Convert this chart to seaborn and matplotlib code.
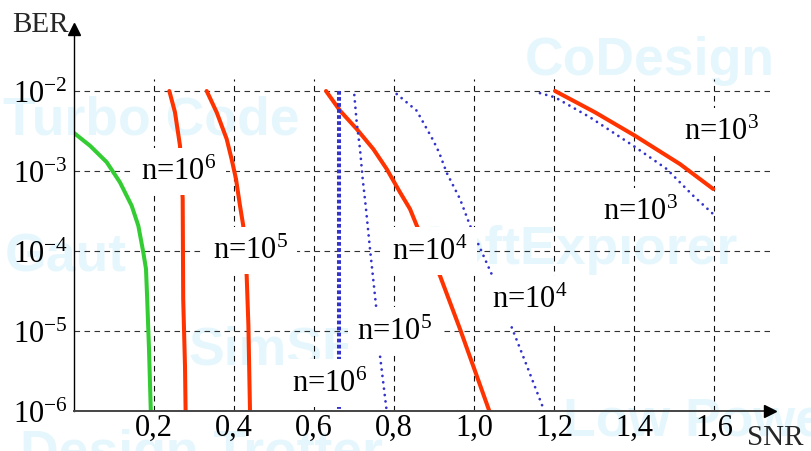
import matplotlib
matplotlib.use("Agg")
import matplotlib.pyplot as plt
import seaborn as sns

sns.set_theme(style="white")
plt.rcParams["font.family"] = ["Liberation Serif", "DejaVu Serif"]
plt.rcParams["mathtext.fontset"] = "custom"
plt.rcParams["mathtext.rm"] = "Liberation Serif"
plt.rcParams["mathtext.it"] = "Liberation Serif:italic"
plt.rcParams["mathtext.bf"] = "Liberation Serif:bold"

# ---------------- data (SNR, BER) ----------------
green_x = [0.0, 0.04, 0.0817, 0.115, 0.1442, 0.1608, 0.1733, 0.18, 0.183, 0.1875, 0.192]
green_y = [2.99e-3, 2.07e-3, 1.29e-3, 7.2e-4, 3.68e-4, 2.07e-4, 9.6e-5, 5.96e-5, 2.51e-5, 5.96e-6, 1e-6]

red6_x = [0.2383, 0.2525, 0.265, 0.2717, 0.273, 0.2775, 0.279]
red6_y = [1e-2, 5.41e-3, 2.07e-3, 4.47e-4, 2.51e-5, 3.63e-6, 1e-6]

red5_x = [0.3317, 0.3567, 0.3817, 0.394, 0.405, 0.415, 0.423, 0.4317, 0.436, 0.44]
red5_y = [1e-2, 5.41e-3, 2.51e-3, 1.41e-3, 7.94e-4, 3.68e-4, 2.09e-4, 4.9e-5, 1.17e-5, 1e-6]

blue6_x = [0.6625, 0.6625]
blue6_y = [1e-2, 1e-6]

blue5_x = [0.7008, 0.7067, 0.715, 0.7217, 0.729, 0.74, 0.755, 0.765, 0.7817]
blue5_y = [8.91e-3, 4.07e-3, 1.88e-3, 7.94e-4, 3.76e-4, 1.06e-4, 2.09e-5, 4.9e-6, 1e-6]

red4_x = [0.63, 0.665, 0.7067, 0.7483, 0.7817, 0.815, 0.84, 0.8567, 0.915, 0.965, 1.0383]
red4_y = [1e-2, 5.68e-3, 3.35e-3, 1.88e-3, 1.06e-3, 5.42e-4, 3.35e-4, 2.09e-4, 4.9e-5, 1.06e-5, 1e-6]

blue4_x = [0.8067, 0.8567, 0.8983, 0.9133, 0.9317, 0.965, 0.99, 1.0442, 1.0925, 1.1317, 1.1758]
blue4_y = [9.17e-3, 5.68e-3, 2.4e-3, 1.68e-3, 9.5e-4, 4.47e-4, 2.09e-4, 5.13e-5, 1.17e-5, 3.72e-6, 1e-6]

red3_x = [1.2025, 1.3025, 1.4025, 1.515, 1.598]
red3_y = [1e-2, 5.42e-3, 2.76e-3, 1.22e-3, 5.96e-4]

blue3_x = [1.1650, 1.2025, 1.29, 1.398, 1.4817, 1.548, 1.6025]
blue3_y = [9.4e-3, 8.34e-3, 4.69e-3, 2.07e-3, 1.06e-3, 4.91e-4, 2.76e-4]

x_ticks = [0.2, 0.4, 0.6, 0.8, 1.0, 1.2, 1.4, 1.6]
x_tick_labels = ["0,2", "0,4", "0,6", "0,8", "1,0", "1,2", "1,4", "1,6"]
y_ticks = [1e-2, 1e-3, 1e-4, 1e-5, 1e-6]
y_tick_labels = [r"10$^{-2}$", r"10$^{-3}$", r"10$^{-4}$", r"10$^{-5}$", r"10$^{-6}$"]

labels_text = [r"n=10$^{6}$", r"n=10$^{5}$", r"n=10$^{6}$", r"n=10$^{5}$",
               r"n=10$^{4}$", r"n=10$^{4}$", r"n=10$^{3}$", r"n=10$^{3}$"]
labels_x = [0.2625, 0.441, 0.64, 0.8025, 0.89, 1.14, 1.6175, 1.415]
labels_y = [9.9e-4, 1.02e-4, 2.24e-6, 1e-5, 1e-4, 2.45e-5, 3.09e-3, 3.09e-4]

watermarks = ["CoDesign", "Turbo Code", "Gaut", "SoftExplorer", "SimSE", "Low Power", "Design Trotter"]
wm_px = [(525, 75), (3, 135), (5, 272), (416, 264), (188, 365), (563, 436), (20, 468)]

# ---------------- figure ----------------
W, H = 812, 452
fig = plt.figure(figsize=(W / 100, H / 100), dpi=100)
fig.patch.set_facecolor("white")
ax = fig.add_axes([74 / W, 40 / H, 696 / W, 382 / H])
ax.patch.set_visible(False)
ax.set_yscale("log")
ax.set_xlim(0, 1.74)
ax.set_ylim(1e-6, 10 ** -1.225)

for txt, (px, py) in zip(watermarks, wm_px):
    fig.text(px / W, 1 - py / H, txt, fontsize=38.5, fontweight="bold",
             family="Liberation Sans", color="#e5f7fd", ha="left", va="baseline",
             zorder=-5)

# grid
ax.vlines(x_ticks, 1e-6, 10 ** -1.85, colors="#111111", linewidth=0.8,
          linestyles=(0, (5, 4)), zorder=1)
ax.hlines(y_ticks[:-1], 0, 1.74, colors="#333333", linewidth=0.8,
          linestyles=(0, (5, 4)), zorder=1)

RED = "#ff3300"
GREEN = "#33cc33"
BLUE = "#3333cc"

def draw(x, y, **kw):
    sns.lineplot(x=x, y=y, ax=ax, sort=False, estimator=None, **kw)

draw(green_x, green_y, color=GREEN, linewidth=2.9, zorder=2)
draw(red6_x, red6_y, color=RED, linewidth=2.9, zorder=2)
draw(red5_x, red5_y, color=RED, linewidth=2.9, zorder=2)
draw(red4_x, red4_y, color=RED, linewidth=2.9, zorder=2)
draw(red3_x, red3_y, color=RED, linewidth=2.9, zorder=2)
draw(blue6_x, blue6_y, color=BLUE, linewidth=2.9, linestyle=(0, (0.92, 0.58)),
     dash_capstyle="butt", zorder=2)
for bx, by in [(blue5_x, blue5_y), (blue4_x, blue4_y), (blue3_x, blue3_y)]:
    draw(bx, by, color=BLUE, linewidth=2.0, linestyle=(0, (0.01, 2.3)),
         dash_capstyle="round", zorder=2)

for t, lx, ly in zip(labels_text, labels_x, labels_y):
    ax.text(lx, ly, t, fontsize=22, ha="center", va="center", color="black",
            bbox=dict(boxstyle="square,pad=0.3", facecolor="white", edgecolor="none"),
            zorder=3)

# axes
for s in ["top", "right"]:
    ax.spines[s].set_visible(False)
ax.spines["left"].set_color("black")
ax.spines["left"].set_linewidth(1.0)
ax.spines["bottom"].set_color("#444444")
ax.spines["bottom"].set_linewidth(1.4)
ax.spines["left"].set_zorder(4)
ax.spines["bottom"].set_zorder(4)
ax.plot([0], [1.0], marker="^", markersize=8, color="black", transform=ax.transAxes,
        clip_on=False, zorder=5)
ax.plot([1.0], [0], marker=">", markersize=8, color="black", transform=ax.transAxes,
        clip_on=False, zorder=5)

ax.set_xticks(x_ticks)
ax.set_xticklabels(x_tick_labels)
ax.set_yticks(y_ticks)
ax.set_yticklabels(y_tick_labels)
ax.minorticks_off()
ax.tick_params(axis="x", length=0, pad=1.5, labelsize=22, colors="black")
ax.tick_params(axis="y", length=0, pad=4.5, labelsize=22, colors="black")
ax.set_xlabel("")
ax.set_ylabel("")
ax.grid(False)

fig.text(12 / W, 1 - 32 / H, "BER", fontsize=21, ha="left", va="baseline")
fig.text(747 / W, 1 - 445 / H, "SNR", fontsize=21, ha="left", va="baseline")

fig.savefig("out.png", dpi=100, facecolor="white")
